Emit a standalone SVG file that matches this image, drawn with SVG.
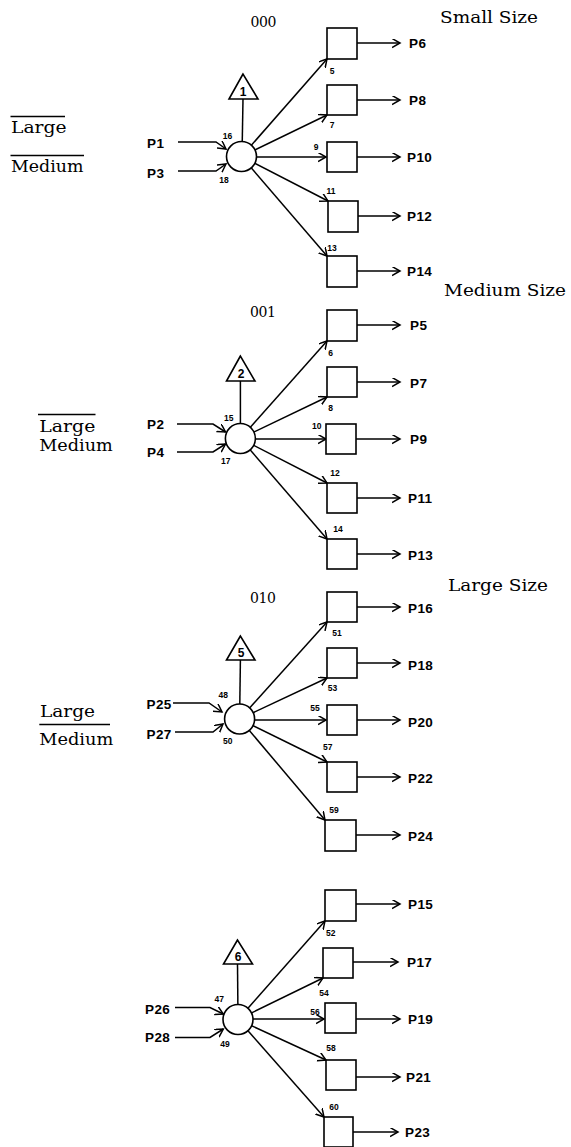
<svg xmlns="http://www.w3.org/2000/svg" width="571" height="1147" viewBox="0 0 571 1147">
<defs>
<marker id="ah" markerWidth="10" markerHeight="10" refX="8" refY="4.5" orient="auto" markerUnits="userSpaceOnUse">
<path d="M0,0 L8,4.5 L0,9" fill="none" stroke="#000" stroke-width="1.5"/>
</marker>
<style>
.ln{fill:none;stroke:#000;stroke-width:1.5}
.ar{fill:none;stroke:#000;stroke-width:1.5;marker-end:url(#ah)}
.bx{fill:#fff;stroke:#000;stroke-width:1.6}
.cr{fill:#fff;stroke:#000;stroke-width:1.6}
.tr{fill:#fff;stroke:#000;stroke-width:1.6}
.p{font-family:"Liberation Sans",Arial,sans-serif;font-weight:bold;font-size:13.5px;fill:#000;letter-spacing:0.4px}
.n{font-family:"Liberation Sans",Arial,sans-serif;font-weight:bold;font-size:8.5px;fill:#000;text-anchor:middle}
.t{font-family:"Liberation Sans",Arial,sans-serif;font-weight:bold;font-size:12px;fill:#000;text-anchor:middle}
.s{font-family:"DejaVu Serif","Liberation Serif",serif;font-size:16px;fill:#000}
.c{font-family:"DejaVu Serif","Liberation Serif",serif;font-size:14px;fill:#000}
</style>
</defs>
<rect x="0" y="0" width="571" height="1147" fill="#fff"/>

<g id="headings">
<text class="c" x="250.5" y="27" textLength="26" lengthAdjust="spacing">000</text>
<text class="s" x="440" y="23" textLength="98" lengthAdjust="spacingAndGlyphs">Small Size</text>
<text class="s" x="444" y="296" textLength="122" lengthAdjust="spacingAndGlyphs">Medium Size</text>
<text class="c" x="250" y="317" textLength="26" lengthAdjust="spacing">001</text>
<text class="s" x="448" y="591" textLength="100" lengthAdjust="spacingAndGlyphs">Large Size</text>
<text class="c" x="250" y="603" textLength="26" lengthAdjust="spacing">010</text>
</g>

<g id="conditions">
<line class="ln" x1="10.5" y1="116.5" x2="65" y2="116.5"/>
<text class="s" x="11" y="132.5" textLength="55.5" lengthAdjust="spacingAndGlyphs">Large</text>
<line class="ln" x1="10.5" y1="155.5" x2="84" y2="155.5"/>
<text class="s" x="11" y="172" textLength="72.5" lengthAdjust="spacingAndGlyphs">Medium</text>

<line class="ln" x1="38" y1="414.5" x2="95.5" y2="414.5"/>
<text class="s" x="39.3" y="431.5" textLength="56" lengthAdjust="spacingAndGlyphs">Large</text>
<text class="s" x="39.3" y="451" textLength="73.5" lengthAdjust="spacingAndGlyphs">Medium</text>

<text class="s" x="40" y="717.3" textLength="55" lengthAdjust="spacingAndGlyphs">Large</text>
<line class="ln" x1="39.3" y1="724.5" x2="110" y2="724.5"/>
<text class="s" x="39.3" y="745" textLength="74" lengthAdjust="spacingAndGlyphs">Medium</text>
</g>

<g id="connectors">
<!-- section 1 -->
<polyline class="ar" points="178,142 216,142 226,149"/>
<polyline class="ar" points="178,171 216,171 226,164"/>
<line class="ln" x1="243" y1="99" x2="242" y2="156"/>
<line class="ar" x1="241.5" y1="156.5" x2="327" y2="59"/>
<line class="ar" x1="241.5" y1="156.5" x2="327" y2="115"/>
<line class="ar" x1="241.5" y1="157" x2="326" y2="157"/>
<line class="ar" x1="241.5" y1="156.5" x2="328" y2="201"/>
<line class="ar" x1="241.5" y1="156.5" x2="327" y2="256"/>
<line class="ar" x1="357" y1="43" x2="400" y2="43"/>
<line class="ar" x1="357" y1="100" x2="400" y2="100"/>
<line class="ar" x1="357" y1="157" x2="400" y2="157"/>
<line class="ar" x1="358" y1="216" x2="400" y2="216"/>
<line class="ar" x1="357" y1="271" x2="400" y2="271"/>
<!-- section 2 -->
<polyline class="ar" points="177,424 213,424 225.5,432"/>
<polyline class="ar" points="177,452 213,452 225.5,444"/>
<line class="ln" x1="240.4" y1="381" x2="240.4" y2="438"/>
<line class="ar" x1="240.4" y1="438.5" x2="327" y2="341"/>
<line class="ar" x1="240.4" y1="438.5" x2="327" y2="397"/>
<line class="ar" x1="240.4" y1="439" x2="326" y2="439"/>
<line class="ar" x1="240.4" y1="438.5" x2="327" y2="483"/>
<line class="ar" x1="240.4" y1="438.5" x2="327" y2="539"/>
<line class="ar" x1="357" y1="325" x2="400" y2="325"/>
<line class="ar" x1="357" y1="382" x2="400" y2="382"/>
<line class="ar" x1="356" y1="439" x2="400" y2="439"/>
<line class="ar" x1="357" y1="498" x2="400" y2="498"/>
<line class="ar" x1="357" y1="554" x2="400" y2="554"/>
<!-- section 3 -->
<polyline class="ar" points="173,703 209,703 222,712"/>
<polyline class="ar" points="175,732 213,732 223,724"/>
<line class="ln" x1="240.4" y1="660" x2="239.6" y2="719"/>
<line class="ar" x1="239.6" y1="719" x2="327" y2="622"/>
<line class="ar" x1="239.6" y1="719" x2="327" y2="678"/>
<line class="ar" x1="239.6" y1="720" x2="326" y2="720"/>
<line class="ar" x1="239.6" y1="719" x2="327" y2="762"/>
<line class="ar" x1="239.6" y1="719" x2="325" y2="820"/>
<line class="ar" x1="357" y1="607" x2="400" y2="607"/>
<line class="ar" x1="357" y1="663" x2="400" y2="663"/>
<line class="ar" x1="357" y1="720" x2="400" y2="720"/>
<line class="ar" x1="357" y1="777" x2="400" y2="777"/>
<line class="ar" x1="356" y1="835" x2="400" y2="835"/>
<!-- section 4 -->
<polyline class="ar" points="175,1007.5 210,1007.5 223.3,1014"/>
<polyline class="ar" points="175,1037.5 210,1037.5 223.3,1029"/>
<line class="ln" x1="237.5" y1="964" x2="238" y2="1019.5"/>
<line class="ar" x1="238" y1="1019.5" x2="325" y2="921"/>
<line class="ar" x1="238" y1="1019.5" x2="323" y2="978"/>
<line class="ar" x1="238" y1="1019" x2="324" y2="1019"/>
<line class="ar" x1="238" y1="1019.5" x2="326" y2="1060"/>
<line class="ar" x1="238" y1="1019.5" x2="324" y2="1117"/>
<line class="ar" x1="356" y1="904" x2="400" y2="904"/>
<line class="ar" x1="353" y1="962" x2="398" y2="962"/>
<line class="ar" x1="356" y1="1019" x2="400" y2="1019"/>
<line class="ar" x1="356" y1="1077" x2="400" y2="1077"/>
<line class="ar" x1="353" y1="1132" x2="398" y2="1132"/>
</g>

<g id="section1">
<g id="n1-in"><text class="p" x="147" y="147.5">P1</text><text class="p" x="147" y="178">P3</text></g>
<g id="n1-tri"><polygon class="tr" points="243,74 229,99 258,99"/><text class="t" x="243" y="96">1</text></g>
<g id="n1-circle"><circle class="cr" cx="241.5" cy="156.5" r="15"/></g>
<g id="n1-boxes">
<rect class="bx" x="327" y="28" width="30" height="31"/>
<rect class="bx" x="327" y="85" width="30" height="30"/>
<rect class="bx" x="327" y="142" width="30" height="30"/>
<rect class="bx" x="328" y="201" width="30" height="31"/>
<rect class="bx" x="327" y="256" width="30" height="31"/>
</g>
<g id="n1-out">
<text class="p" x="409" y="47.5">P6</text>
<text class="p" x="409" y="104.5">P8</text>
<text class="p" x="407" y="161.5">P10</text>
<text class="p" x="407" y="220.5">P12</text>
<text class="p" x="407" y="276">P14</text>
</g>
<g id="n1-nums">
<text class="n" x="227.6" y="139">16</text>
<text class="n" x="224" y="183">18</text>
<text class="n" x="332" y="74">5</text>
<text class="n" x="332" y="128">7</text>
<text class="n" x="316" y="150">9</text>
<text class="n" x="331" y="194">11</text>
<text class="n" x="332" y="251">13</text>
</g>
</g>

<g id="section2">
<g id="n2-in"><text class="p" x="147" y="429">P2</text><text class="p" x="147" y="457">P4</text></g>
<g id="n2-tri"><polygon class="tr" points="240.4,356 226.5,381 255,381"/><text class="t" x="241" y="378">2</text></g>
<g id="n2-circle"><circle class="cr" cx="240.4" cy="438.5" r="15"/></g>
<g id="n2-boxes">
<rect class="bx" x="327" y="310" width="30" height="31"/>
<rect class="bx" x="327" y="367" width="30" height="30"/>
<rect class="bx" x="326" y="424" width="30" height="30"/>
<rect class="bx" x="327" y="483" width="30" height="30"/>
<rect class="bx" x="327" y="539" width="30" height="30"/>
</g>
<g id="n2-out">
<text class="p" x="410" y="329.5">P5</text>
<text class="p" x="410" y="387.5">P7</text>
<text class="p" x="410" y="443.5">P9</text>
<text class="p" x="408" y="503">P11</text>
<text class="p" x="408" y="559.5">P13</text>
</g>
<g id="n2-nums">
<text class="n" x="228.7" y="421">15</text>
<text class="n" x="225.8" y="464">17</text>
<text class="n" x="330.7" y="356">6</text>
<text class="n" x="330.7" y="411">8</text>
<text class="n" x="316.8" y="429">10</text>
<text class="n" x="335" y="476">12</text>
<text class="n" x="338" y="532">14</text>
</g>
</g>

<g id="section3">
<g id="n3-in"><text class="p" x="146.5" y="708.5">P25</text><text class="p" x="146.5" y="738.5">P27</text></g>
<g id="n3-tri"><polygon class="tr" points="240.4,636 226.5,660 255,660"/><text class="t" x="241" y="657">5</text></g>
<g id="n3-circle"><circle class="cr" cx="239.6" cy="719" r="15"/></g>
<g id="n3-boxes">
<rect class="bx" x="327" y="592" width="30" height="30"/>
<rect class="bx" x="327" y="648" width="30" height="30"/>
<rect class="bx" x="327" y="705" width="30" height="30"/>
<rect class="bx" x="327" y="762" width="30" height="30"/>
<rect class="bx" x="325" y="820" width="31" height="31"/>
</g>
<g id="n3-out">
<text class="p" x="408" y="612.5">P16</text>
<text class="p" x="408" y="669.5">P18</text>
<text class="p" x="408" y="726.5">P20</text>
<text class="p" x="408" y="782.5">P22</text>
<text class="p" x="408" y="840.5">P24</text>
</g>
<g id="n3-nums">
<text class="n" x="223.3" y="698">48</text>
<text class="n" x="227.7" y="744">50</text>
<text class="n" x="337" y="636">51</text>
<text class="n" x="332.5" y="691">53</text>
<text class="n" x="315" y="711">55</text>
<text class="n" x="327.8" y="750">57</text>
<text class="n" x="334" y="813">59</text>
</g>
</g>

<g id="section4">
<g id="n4-in"><text class="p" x="145" y="1013.5">P26</text><text class="p" x="145" y="1042">P28</text></g>
<g id="n4-tri"><polygon class="tr" points="237.5,940 223.5,964 252.5,964"/><text class="t" x="238" y="961">6</text></g>
<g id="n4-circle"><circle class="cr" cx="238" cy="1019.5" r="15"/></g>
<g id="n4-boxes">
<rect class="bx" x="325" y="890" width="31" height="31"/>
<rect class="bx" x="323" y="948" width="30" height="30"/>
<rect class="bx" x="325" y="1003" width="31" height="30"/>
<rect class="bx" x="326" y="1060" width="30" height="30"/>
<rect class="bx" x="324" y="1117" width="29" height="30"/>
</g>
<g id="n4-out">
<text class="p" x="408" y="908.5">P15</text>
<text class="p" x="407" y="966.5">P17</text>
<text class="p" x="408" y="1024">P19</text>
<text class="p" x="406" y="1081.5">P21</text>
<text class="p" x="405" y="1136.5">P23</text>
</g>
<g id="n4-nums">
<text class="n" x="219.3" y="1002">47</text>
<text class="n" x="225" y="1047">49</text>
<text class="n" x="330.7" y="936">52</text>
<text class="n" x="324" y="996">54</text>
<text class="n" x="315" y="1015">56</text>
<text class="n" x="331" y="1051">58</text>
<text class="n" x="334" y="1110">60</text>
</g>
</g>
</svg>
